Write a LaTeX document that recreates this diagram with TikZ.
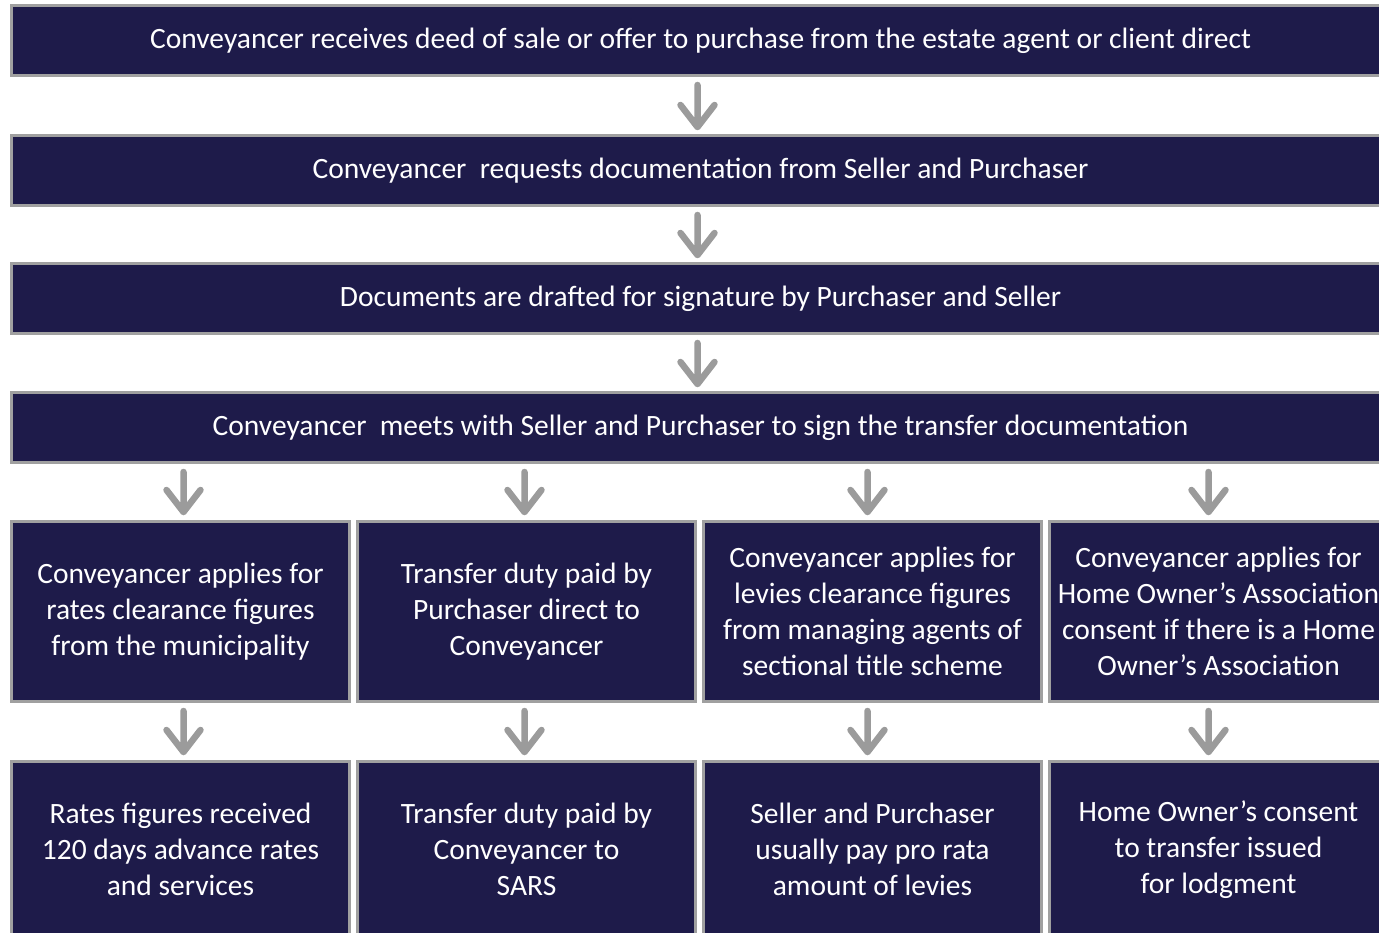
\documentclass[tikz,border=0pt]{standalone}
\usepackage{fontspec}
\setmainfont{Carlito}
\usetikzlibrary{calc}
\definecolor{navy}{RGB}{30,27,74}
\definecolor{bord}{RGB}{160,160,160}
\definecolor{arrg}{RGB}{155,155,155}
\newcommand{\myarrowdown}[2]{\draw[conn] #1 -- #2 ++(-17,-22) -- #2 -- ++(17,-22);}
\begin{document}
\begin{tikzpicture}[x=1pt,y=-1pt,
  base/.style={draw=bord, line width=3pt, fill=navy, text=white, anchor=north west, inner sep=0pt},
  wide/.style={base, minimum width=1378pt, minimum height=70pt, font=\fontsize{29.5}{34}\selectfont},
  col/.style={base, minimum width=338pt, minimum height=180pt, align=center, font=\fontsize{29.5}{36}\selectfont},
  colb/.style={col, minimum height=176pt},
  conn/.style={draw=arrg, line width=6.5pt, line cap=round, line join=round}]
\useasboundingbox (0,0) rectangle (1379,933);
\clip (0,0) rectangle (1379,933);
\node[wide] (r1) at (10,4) {Conveyancer receives deed of sale or offer to purchase from the estate agent or client direct};
\node[wide] (r2) at (10,134) {Conveyancer\ \ requests documentation from Seller and Purchaser};
\node[wide] (r3) at (10,262) {Documents are drafted for signature by Purchaser and Seller};
\node[wide] (r4) at (10,391) {Conveyancer\ \ meets with Seller and Purchaser to sign the transfer documentation};
\node[col] (c1) at (10,520) {Conveyancer applies for\\rates clearance figures\\from the municipality};
\node[col] (c2) at (356,520) {Transfer duty paid by\\Purchaser direct to\\Conveyancer};
\node[col] (c3) at (702,520) {Conveyancer applies for\\levies clearance figures\\from managing agents of\\sectional title scheme};
\node[col] (c4) at (1048,520) {Conveyancer applies for\\Home Owner’s Association\\consent if there is a Home\\Owner’s Association};
\node[colb] (d1) at (10,760) {Rates figures received\\120 days advance rates\\and services};
\node[colb] (d2) at (356,760) {Transfer duty paid by\\Conveyancer to\\SARS};
\node[colb] (d3) at (702,760) {Seller and Purchaser\\usually pay pro rata\\amount of levies};
\node[colb] (d4) at (1048,760) {Home Owner’s consent\\to transfer issued\\for lodgment};
\myarrowdown{($(r1.south)+(-3,8)$)}{($(r2.north)+(-3,-7)$)}
\myarrowdown{($(r2.south)+(-3,8)$)}{($(r3.north)+(-3,-7)$)}
\myarrowdown{($(r3.south)+(-3,8)$)}{($(r4.north)+(-3,-7)$)}
\foreach \c/\dx in {1/3,2/-2,3/-5,4/-10}{
  \myarrowdown{($(r4.south -| c\c.north)+(\dx,8)$)}{($(c\c.north)+(\dx,-8)$)}
  \myarrowdown{($(c\c.south)+(\dx,8)$)}{($(d\c.north)+(\dx,-8)$)}
}
\end{tikzpicture}
\end{document}
